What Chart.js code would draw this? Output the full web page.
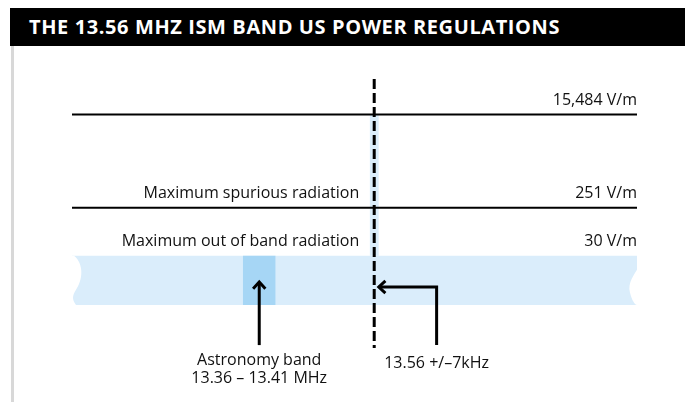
<!DOCTYPE html>
<html>
<head>
<meta charset="utf-8">
<script src="https://cdn.jsdelivr.net/npm/chart.js@4.4.1/dist/chart.umd.min.js"></script>
<style>
    body { margin: 0; background: #fff; }
    #wrap { position: relative; width: 685px; height: 402px; overflow: hidden; }
    #chart1 { position: absolute; left: 0; top: 0; }
    #title {
        position: absolute; left: 10px; top: 8px; width: 675px; height: 38px;
        background: #000; color: #fff; box-sizing: border-box; padding-left: 19px;
        font: bold 20px "Open Sans", sans-serif; letter-spacing: 0.6px;
        line-height: 38px; white-space: nowrap;
    }
    #rule { position: absolute; left: 11px; top: 46px; width: 3px; height: 356px; background: #d8d8d8; }
</style>
</head>
<body>
<div id="wrap">
    <canvas id="chart1" width="685" height="402"></canvas>
    <div id="title">THE 13.56 MHZ ISM BAND US POWER REGULATIONS</div>
    <div id="rule"></div>
</div>
<script>
// frequency axis (MHz) and field strength axis (V/m, log)
const freqRange = [13.10, 13.96]
const fieldRange = [0.51, 74300]

const levelValues = [15484, 251, 30]
const levelLabels = ['15,484 V/m', '251 V/m', '30 V/m']
const levelNames = ['', 'Maximum spurious radiation', 'Maximum out of band radiation']

const centerFreq = 13.56
const ismBand = [13.553, 13.567]
const astronomyBand = [13.36, 13.41]
const bandFloor = 3.41

// arrow anchors in V/m / MHz
const astronomyArrow = [0.58, 9.4]
const ismArrowFreq = 13.655
const ismArrowField = [0.58, 7.56]

const astronomyLabel = ['Astronomy band', '13.36 – 13.41 MHz']
const ismLabel = '13.56 +/–7kHz'

const astronomyMid = (astronomyBand[0] + astronomyBand[1]) / 2

const lightBlue = '#daedfb'
const darkBlue = '#a6d6f5'
const labelFont = '16px "Open Sans", sans-serif'

function hLine(value) {
    return [{x: freqRange[0], y: value}, {x: freqRange[1], y: value}]
}

// torn edges on the out of band strip
const tornEdges = {
    id: 'tornEdges',
    afterDatasetDraw(chart, args) {
        if (args.index !== 0) return
        const ctx = chart.ctx
        const y = chart.scales.y
        const x0 = chart.chartArea.left, x1 = chart.chartArea.right
        const top = y.getPixelForValue(levelValues[2]), bot = y.getPixelForValue(bandFloor)
        ctx.save()
        ctx.fillStyle = '#fff'
        ctx.beginPath()
        ctx.moveTo(x0 - 1, top)
        ctx.lineTo(x0 + 2, top)
        ctx.bezierCurveTo(x0 + 12, top + 8, x0 + 11, top + 24, x0 + 4, top + 34)
        ctx.bezierCurveTo(x0, top + 40, x0, bot - 5, x0 + 4, bot)
        ctx.lineTo(x0 - 1, bot)
        ctx.closePath()
        ctx.fill()
        ctx.beginPath()
        ctx.moveTo(x1 + 1, top + 12)
        ctx.bezierCurveTo(x1 - 2, top + 18, x1 - 10, top + 27, x1 - 7, top + 37)
        ctx.bezierCurveTo(x1 - 5, top + 45, x1 - 2, bot, x1, bot)
        ctx.lineTo(x1 + 1, bot)
        ctx.closePath()
        ctx.fill()
        ctx.restore()
    }
}

const arrowHeads = {
    id: 'arrowHeads',
    afterDatasetsDraw(chart) {
        const ctx = chart.ctx
        chart.data.datasets.forEach((ds, i) => {
            if (!ds.arrow) return
            const pts = chart.getDatasetMeta(i).data
            const a = pts[pts.length - 2], b = pts[pts.length - 1]
            const ang = Math.atan2(b.y - a.y, b.x - a.x)
            const s = 9
            ctx.save()
            ctx.strokeStyle = '#000'
            ctx.lineWidth = 3
            ctx.lineCap = 'butt'
            ctx.lineJoin = 'miter'
            ctx.beginPath()
            ctx.moveTo(b.x - s * Math.cos(ang - 0.75), b.y - s * Math.sin(ang - 0.75))
            ctx.lineTo(b.x, b.y)
            ctx.lineTo(b.x - s * Math.cos(ang + 0.75), b.y - s * Math.sin(ang + 0.75))
            ctx.stroke()
            ctx.restore()
        })
    }
}

const textLabels = {
    id: 'textLabels',
    afterDraw(chart) {
        const ctx = chart.ctx
        const x = chart.scales.x, y = chart.scales.y
        const area = chart.chartArea
        ctx.save()
        ctx.fillStyle = '#111'
        ctx.font = labelFont
        ctx.textBaseline = 'middle'
        levelValues.forEach((v, i) => {
            const py = y.getPixelForValue(v) - 14
            ctx.textAlign = 'right'
            ctx.fillText(levelLabels[i], area.right, py)
            if (levelNames[i]) ctx.fillText(levelNames[i], x.getPixelForValue(centerFreq) - 15, py)
        })
        ctx.textAlign = 'center'
        const ax = x.getPixelForValue(astronomyMid)
        ctx.fillText(astronomyLabel[0], ax, area.bottom + 12)
        ctx.fillText(astronomyLabel[1], ax, area.bottom + 30)
        ctx.fillText(ismLabel, x.getPixelForValue(ismArrowFreq), area.bottom + 15)
        ctx.restore()
    }
}

function renderChart1() {
    const ctx = document.querySelector('#chart1').getContext('2d')
    const chart1 = new Chart(ctx, {
        type: 'line',
        data: {
            datasets: [
                {   // out of band area
                    data: hLine(levelValues[2]),
                    borderWidth: 0,
                    backgroundColor: lightBlue,
                    fill: {value: bandFloor},
                    order: 10
                },
                {   // ISM band strip
                    data: [{x: ismBand[0], y: levelValues[0]}, {x: ismBand[1], y: levelValues[0]}],
                    borderWidth: 0,
                    backgroundColor: lightBlue,
                    fill: {value: levelValues[2]},
                    order: 9
                },
                {   // astronomy band
                    data: [{x: astronomyBand[0], y: levelValues[2]}, {x: astronomyBand[1], y: levelValues[2]}],
                    borderWidth: 0,
                    backgroundColor: darkBlue,
                    fill: {value: bandFloor},
                    order: 8
                },
                {
                    data: hLine(levelValues[0]),
                    borderColor: '#000',
                    borderWidth: 2,
                    order: 5
                },
                {
                    data: hLine(levelValues[1]),
                    borderColor: '#000',
                    borderWidth: 2,
                    order: 5
                },
                {   // 13.56 MHz centre
                    data: [{x: centerFreq, y: fieldRange[1]}, {x: centerFreq, y: fieldRange[0]}],
                    borderColor: '#000',
                    borderWidth: 3,
                    borderDash: [10, 4],
                    order: 2
                },
                {
                    data: [{x: astronomyMid, y: astronomyArrow[0]}, {x: astronomyMid, y: astronomyArrow[1]}],
                    borderColor: '#000',
                    borderWidth: 3,
                    arrow: true,
                    order: 1
                },
                {
                    data: [
                        {x: ismArrowFreq, y: ismArrowField[0]},
                        {x: ismArrowFreq, y: ismArrowField[1]},
                        {x: ismBand[1], y: ismArrowField[1]}
                    ],
                    borderColor: '#000',
                    borderWidth: 3,
                    borderJoinStyle: 'miter',
                    arrow: true,
                    order: 1
                }
            ]
        },
        options: {
            responsive: false,
            animation: false,
            elements: {
                point: { radius: 0, hoverRadius: 0 },
                line: { tension: 0, borderCapStyle: 'butt' }
            },
            scales: {
                x: {
                    type: 'linear',
                    min: freqRange[0],
                    max: freqRange[1],
                    bounds: 'data',
                    display: false
                },
                y: {
                    type: 'logarithmic',
                    min: fieldRange[0],
                    max: fieldRange[1],
                    bounds: 'data',
                    display: false
                }
            },
            plugins: {
                legend: { display: false },
                tooltip: { enabled: false },
                title: { display: false }
            },
            layout: {
                padding: { left: 72, right: 48, top: 79, bottom: 54 }
            }
        },
        plugins: [tornEdges, arrowHeads, textLabels]
    })
}

renderChart1()
</script>
</body>
</html>
